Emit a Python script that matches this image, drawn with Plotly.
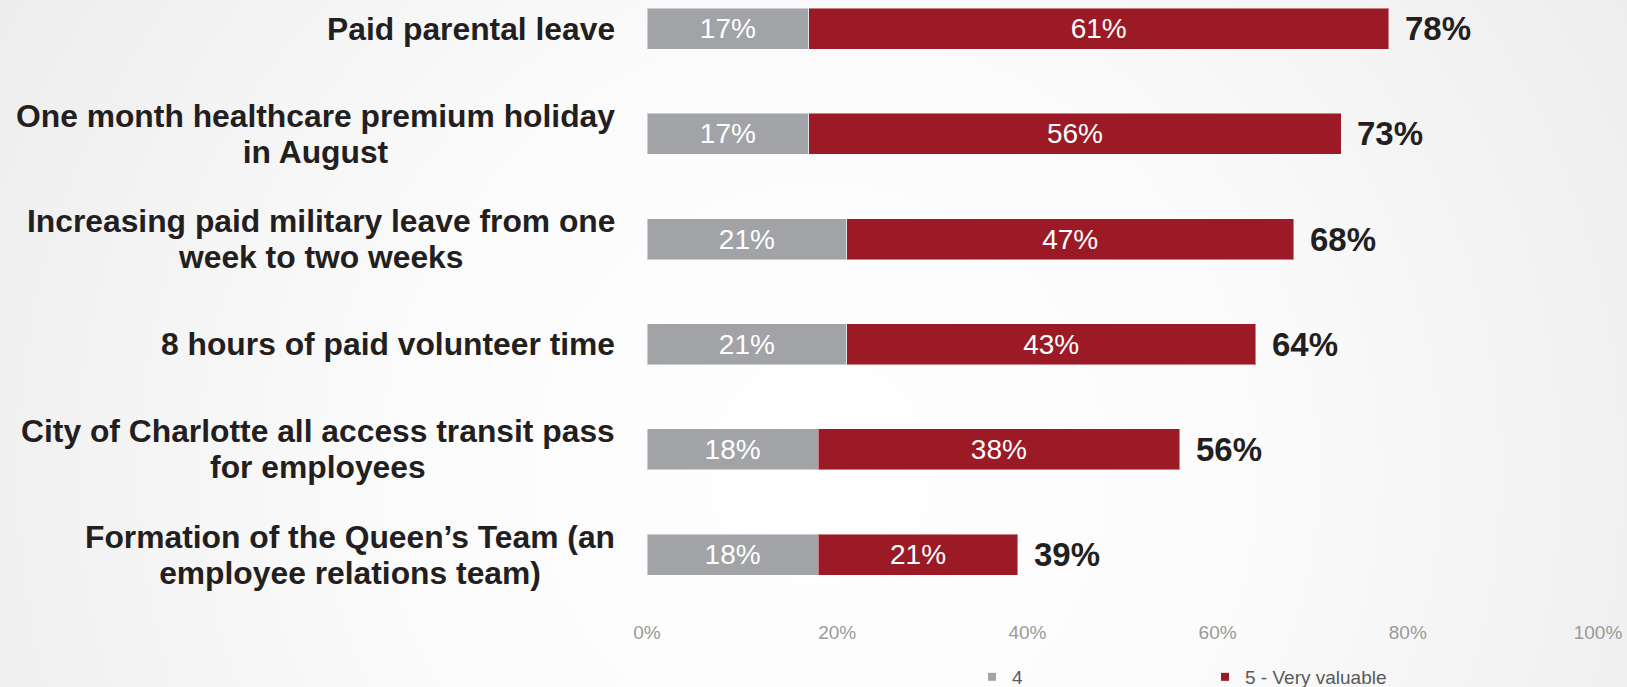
import base64
import plotly.graph_objects as go

# ---- data ----
categories = [
    ["Paid parental leave"],
    ["One month healthcare premium holiday", "in August"],
    ["Increasing paid military leave from one", "week to two weeks"],
    ["8 hours of paid volunteer time"],
    ["City of Charlotte all access transit pass", "for employees"],
    ["Formation of the Queen\u2019s Team (an", "employee relations team)"],
]
cat_keys = [" ".join(c) for c in categories]
series_4 = [17, 17, 21, 21, 18, 18]
series_5 = [61, 56, 47, 43, 38, 21]
series_names = ["4", "5 - Very valuable"]
tick_values = [0, 20, 40, 60, 80, 100]
tick_labels = ["0%", "20%", "40%", "60%", "80%", "100%"]

# ---- geometry ----
W, H = 1627, 687
L, R = 647, 29
B = 610  # plot bottom pixel (top margin 0)
pitch = 105.16
top_center = 28.8
r_top = -top_center / pitch
r_bot = 5 + (B - (top_center + 5 * pitch)) / pitch

GREY = "#A1A3A6"
RED = "#9C1A25"
TXT = "#231F20"
FONT = "Liberation Sans, Arial, sans-serif"

fig = go.Figure()
for vals, nm, col in [(series_4, series_names[0], GREY), (series_5, series_names[1], RED)]:
    fig.add_trace(go.Bar(
        y=cat_keys, x=vals, orientation="h", name=nm,
        marker=dict(color=col, line=dict(color="rgba(255,255,255,0.45)", width=1)),
        text=[f"{v}%" for v in vals], textposition="inside",
        insidetextanchor="middle", textangle=0,
        textfont=dict(family=FONT, size=28, color="white"),
        showlegend=False, hoverinfo="skip",
    ))
# legend entries
for nm, col in zip(series_names, [GREY, RED]):
    fig.add_trace(go.Scatter(
        x=[None], y=[None], mode="markers", name=nm,
        marker=dict(symbol="square", size=8, color=col),
        showlegend=True, hoverinfo="skip",
    ))

annotations = []
for key, lines, a, b in zip(cat_keys, categories, series_4, series_5):
    txt = "<br>".join(f'<span style="font-size:31.8px">{ln}</span>' for ln in lines)
    annotations.append(dict(
        x=-(L - 617) / (W - L - R), xref="paper", y=key, yref="y",
        xanchor="right", yanchor="middle", align="center", showarrow=False,
        text=txt, font=dict(family=FONT, size=28, color=TXT, weight="bold"),
    ))
    annotations.append(dict(
        x=a + b, xref="x", y=key, yref="y", xanchor="left", yanchor="middle",
        xshift=14, showarrow=False, text=f"{a + b}%",
        font=dict(family=FONT, size=33, color=TXT, weight="bold"),
    ))

# background radial gradient
svg = f'''<svg xmlns="http://www.w3.org/2000/svg" width="{W}" height="{H}" viewBox="0 0 {W} {H}" preserveAspectRatio="none">
<defs><radialGradient id="g" gradientUnits="userSpaceOnUse" cx="820" cy="470" r="950">
<stop offset="0" stop-color="#FFFFFF"/><stop offset="0.45" stop-color="#FBFBFB"/><stop offset="1" stop-color="#EDEDED"/>
</radialGradient></defs><rect width="{W}" height="{H}" fill="url(#g)"/></svg>'''
src = "data:image/svg+xml;base64," + base64.b64encode(svg.encode()).decode()
pw = W - L - R
images = [dict(
    source=src, xref="paper", yref="paper", x=-L / pw, y=1.0,
    sizex=W / pw, sizey=H / B, xanchor="left", yanchor="top",
    sizing="stretch", layer="below",
)]

fig.update_layout(
    width=W, height=H, barmode="stack", bargap=0.61,
    margin=dict(l=L, r=R, t=0, b=H - B, autoexpand=False),
    paper_bgcolor="#F4F4F4", plot_bgcolor="rgba(0,0,0,0)",
    images=images, annotations=annotations,
    xaxis=dict(range=[0, 100], tickvals=tick_values, ticktext=tick_labels,
               showgrid=False, zeroline=False, showline=False, ticks="",
               ticklabelstandoff=9,
               tickfont=dict(family=FONT, size=19, color="#9A9A9A"),
               fixedrange=True),
    yaxis=dict(categoryorder="array", categoryarray=cat_keys, range=[r_bot, r_top],
               showticklabels=False, showgrid=False, zeroline=False, showline=False,
               ticks="", fixedrange=True),
    legend=dict(orientation="h", traceorder="normal", x=(972 - L) / pw, xanchor="left",
                y=(B - 677) / B, yanchor="middle", entrywidth=188,
                bgcolor="rgba(0,0,0,0)",
                font=dict(family=FONT, size=19, color="#595959")),
)

fig.write_html("out.html")
